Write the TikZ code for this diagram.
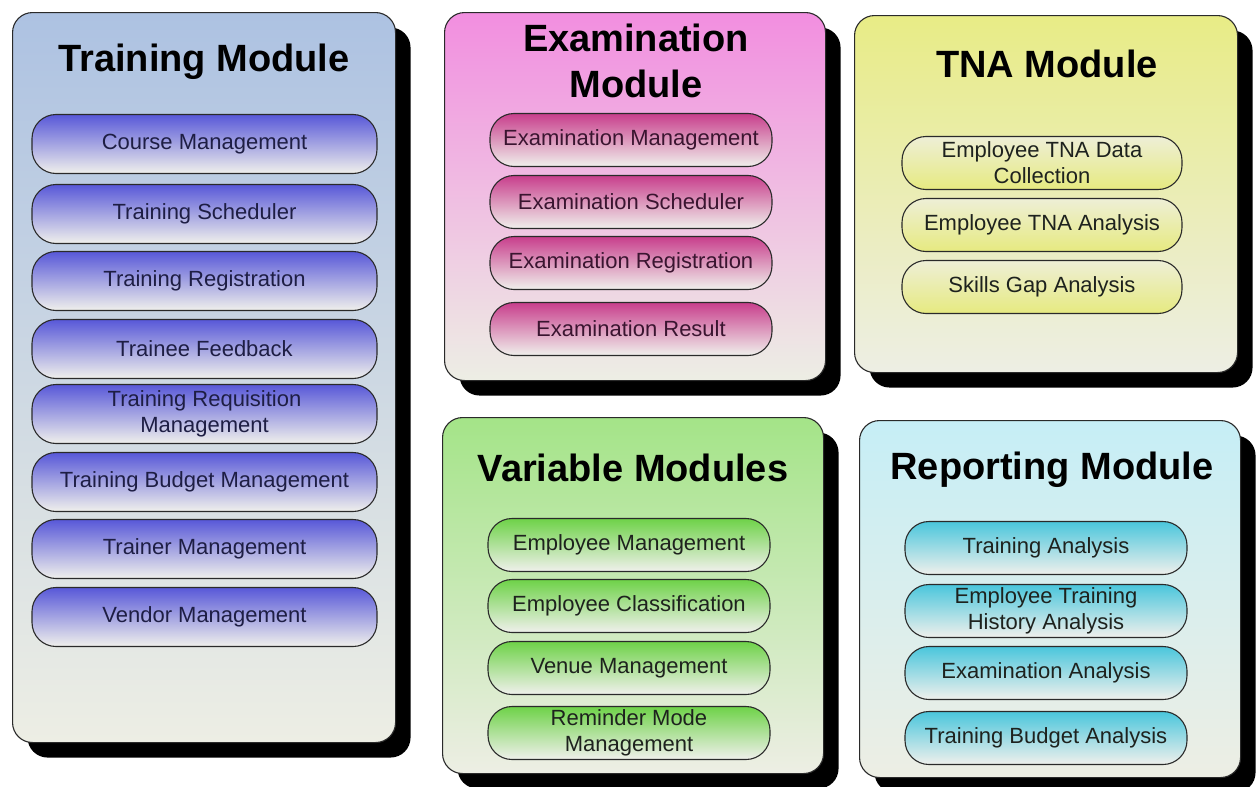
\documentclass[tikz,border=0pt]{standalone}
\usepackage{fontspec}
\setmainfont{Liberation Sans}
\usetikzlibrary{shadows}
\definecolor{basebot}{HTML}{EDEEE4}
\definecolor{trainTop}{HTML}{ADC2E2}
\definecolor{trainPill}{HTML}{5858D8}
\definecolor{examTop}{HTML}{F28EE0}
\definecolor{examPill}{HTML}{C83E8C}
\definecolor{tnaTop}{HTML}{E8EC86}
\definecolor{tnaPill}{HTML}{E6EA80}
\definecolor{varTop}{HTML}{A4E488}
\definecolor{varPill}{HTML}{6ED248}
\definecolor{repTop}{HTML}{C6EEF6}
\definecolor{repPill}{HTML}{4AC6DC}
\definecolor{pillBot}{HTML}{F0F0EC}
\definecolor{edge}{HTML}{2A2A2A}
\definecolor{trainText}{HTML}{1E1E44}
\definecolor{examText}{HTML}{3A1530}
\definecolor{pillText}{HTML}{1E221E}
\begin{document}
\begin{tikzpicture}[x=1pt,y=-1pt,
  panel/.style={draw=edge, line width=1.1pt, rounded corners=20pt, inner sep=0pt,
    anchor=north west, top color=#1, bottom color=basebot,
    drop shadow={shadow xshift=15pt, shadow yshift=-15pt, fill=black, opacity=1}},
  title/.style={font=\fontsize{38}{46}\selectfont\bfseries, align=center, text=black},
  pill/.style={draw=edge, line width=1.1pt, rounded corners=24pt, inner sep=0pt,
    minimum width=282pt, minimum height=53pt, top color=#1, bottom color=pillBot,
    font=\fontsize{22}{26}\selectfont, align=center, text=pillText},
  tpill/.style={pill=trainPill, minimum width=345pt, minimum height=59pt, text=trainText},
  epill/.style={pill=examPill, text=examText},
  tnapill/.style={pill=tnaPill, top color=pillBot!80!tnaPill, bottom color=tnaPill, minimum width=280pt}
]
\fill[white] (0,0) rectangle (1259,787);
\useasboundingbox (0,0) rectangle (1259,787);

% panels
\node[panel=trainTop, minimum width=383pt, minimum height=730pt] (train) at (12,12) {};
\node[panel=examTop, minimum width=381pt, minimum height=368pt] (exam) at (444,12) {};
\node[panel=tnaTop, minimum width=383pt, minimum height=357pt] (tna) at (854,15) {};
\node[panel=varTop, minimum width=381pt, minimum height=356pt] (var) at (442,417) {};
\node[panel=repTop, minimum width=381pt, minimum height=357pt] (rep) at (859,420) {};

% titles
\node[title] (trainT) at (204,62) {Training Module};
\node[title] (examT) at (636,61) {Examination\\Module};
\node[title] (tnaT) at (1047,64) {TNA Module};
\node[title] (varT) at (633,468) {Variable Modules};
\node[title] (repT) at (1052,470) {Reporting Module};

% training pills
\node[tpill] (t1) at (204.5,144) {Course Management};
\node[tpill] (t2) at (204.5,214) {Training Scheduler};
\node[tpill] (t3) at (204.5,281) {Training Registration};
\node[tpill] (t4) at (204.5,349) {Trainee Feedback};
\node[tpill] (t5) at (204.5,414) {Training Requisition\\Management};
\node[tpill] (t6) at (204.5,482) {Training Budget Management};
\node[tpill] (t7) at (204.5,549) {Trainer Management};
\node[tpill] (t8) at (204.5,617) {Vendor Management};

% examination pills
\node[epill] (e1) at (631,140) {Examination Management};
\node[epill] (e2) at (631,202) {Examination Scheduler};
\node[epill] (e3) at (631,263) {Examination Registration};
\node[epill] (e4) at (631,329) {Examination Result};

% TNA pills
\node[tnapill] (n1) at (1042,163) {Employee TNA Data\\Collection};
\node[tnapill] (n2) at (1042,225) {Employee TNA Analysis};
\node[tnapill] (n3) at (1042,287) {Skills Gap Analysis};

% variable pills
\node[pill=varPill] (v1) at (629,545) {Employee Management};
\node[pill=varPill] (v2) at (629,606) {Employee Classification};
\node[pill=varPill] (v3) at (629,668) {Venue Management};
\node[pill=varPill] (v4) at (629,733) {Reminder Mode\\Management};

% reporting pills
\node[pill=repPill] (r1) at (1046,548) {Training Analysis};
\node[pill=repPill] (r2) at (1046,611) {Employee Training\\History Analysis};
\node[pill=repPill] (r3) at (1046,673) {Examination Analysis};
\node[pill=repPill] (r4) at (1046,738) {Training Budget Analysis};
\end{tikzpicture}
\end{document}
